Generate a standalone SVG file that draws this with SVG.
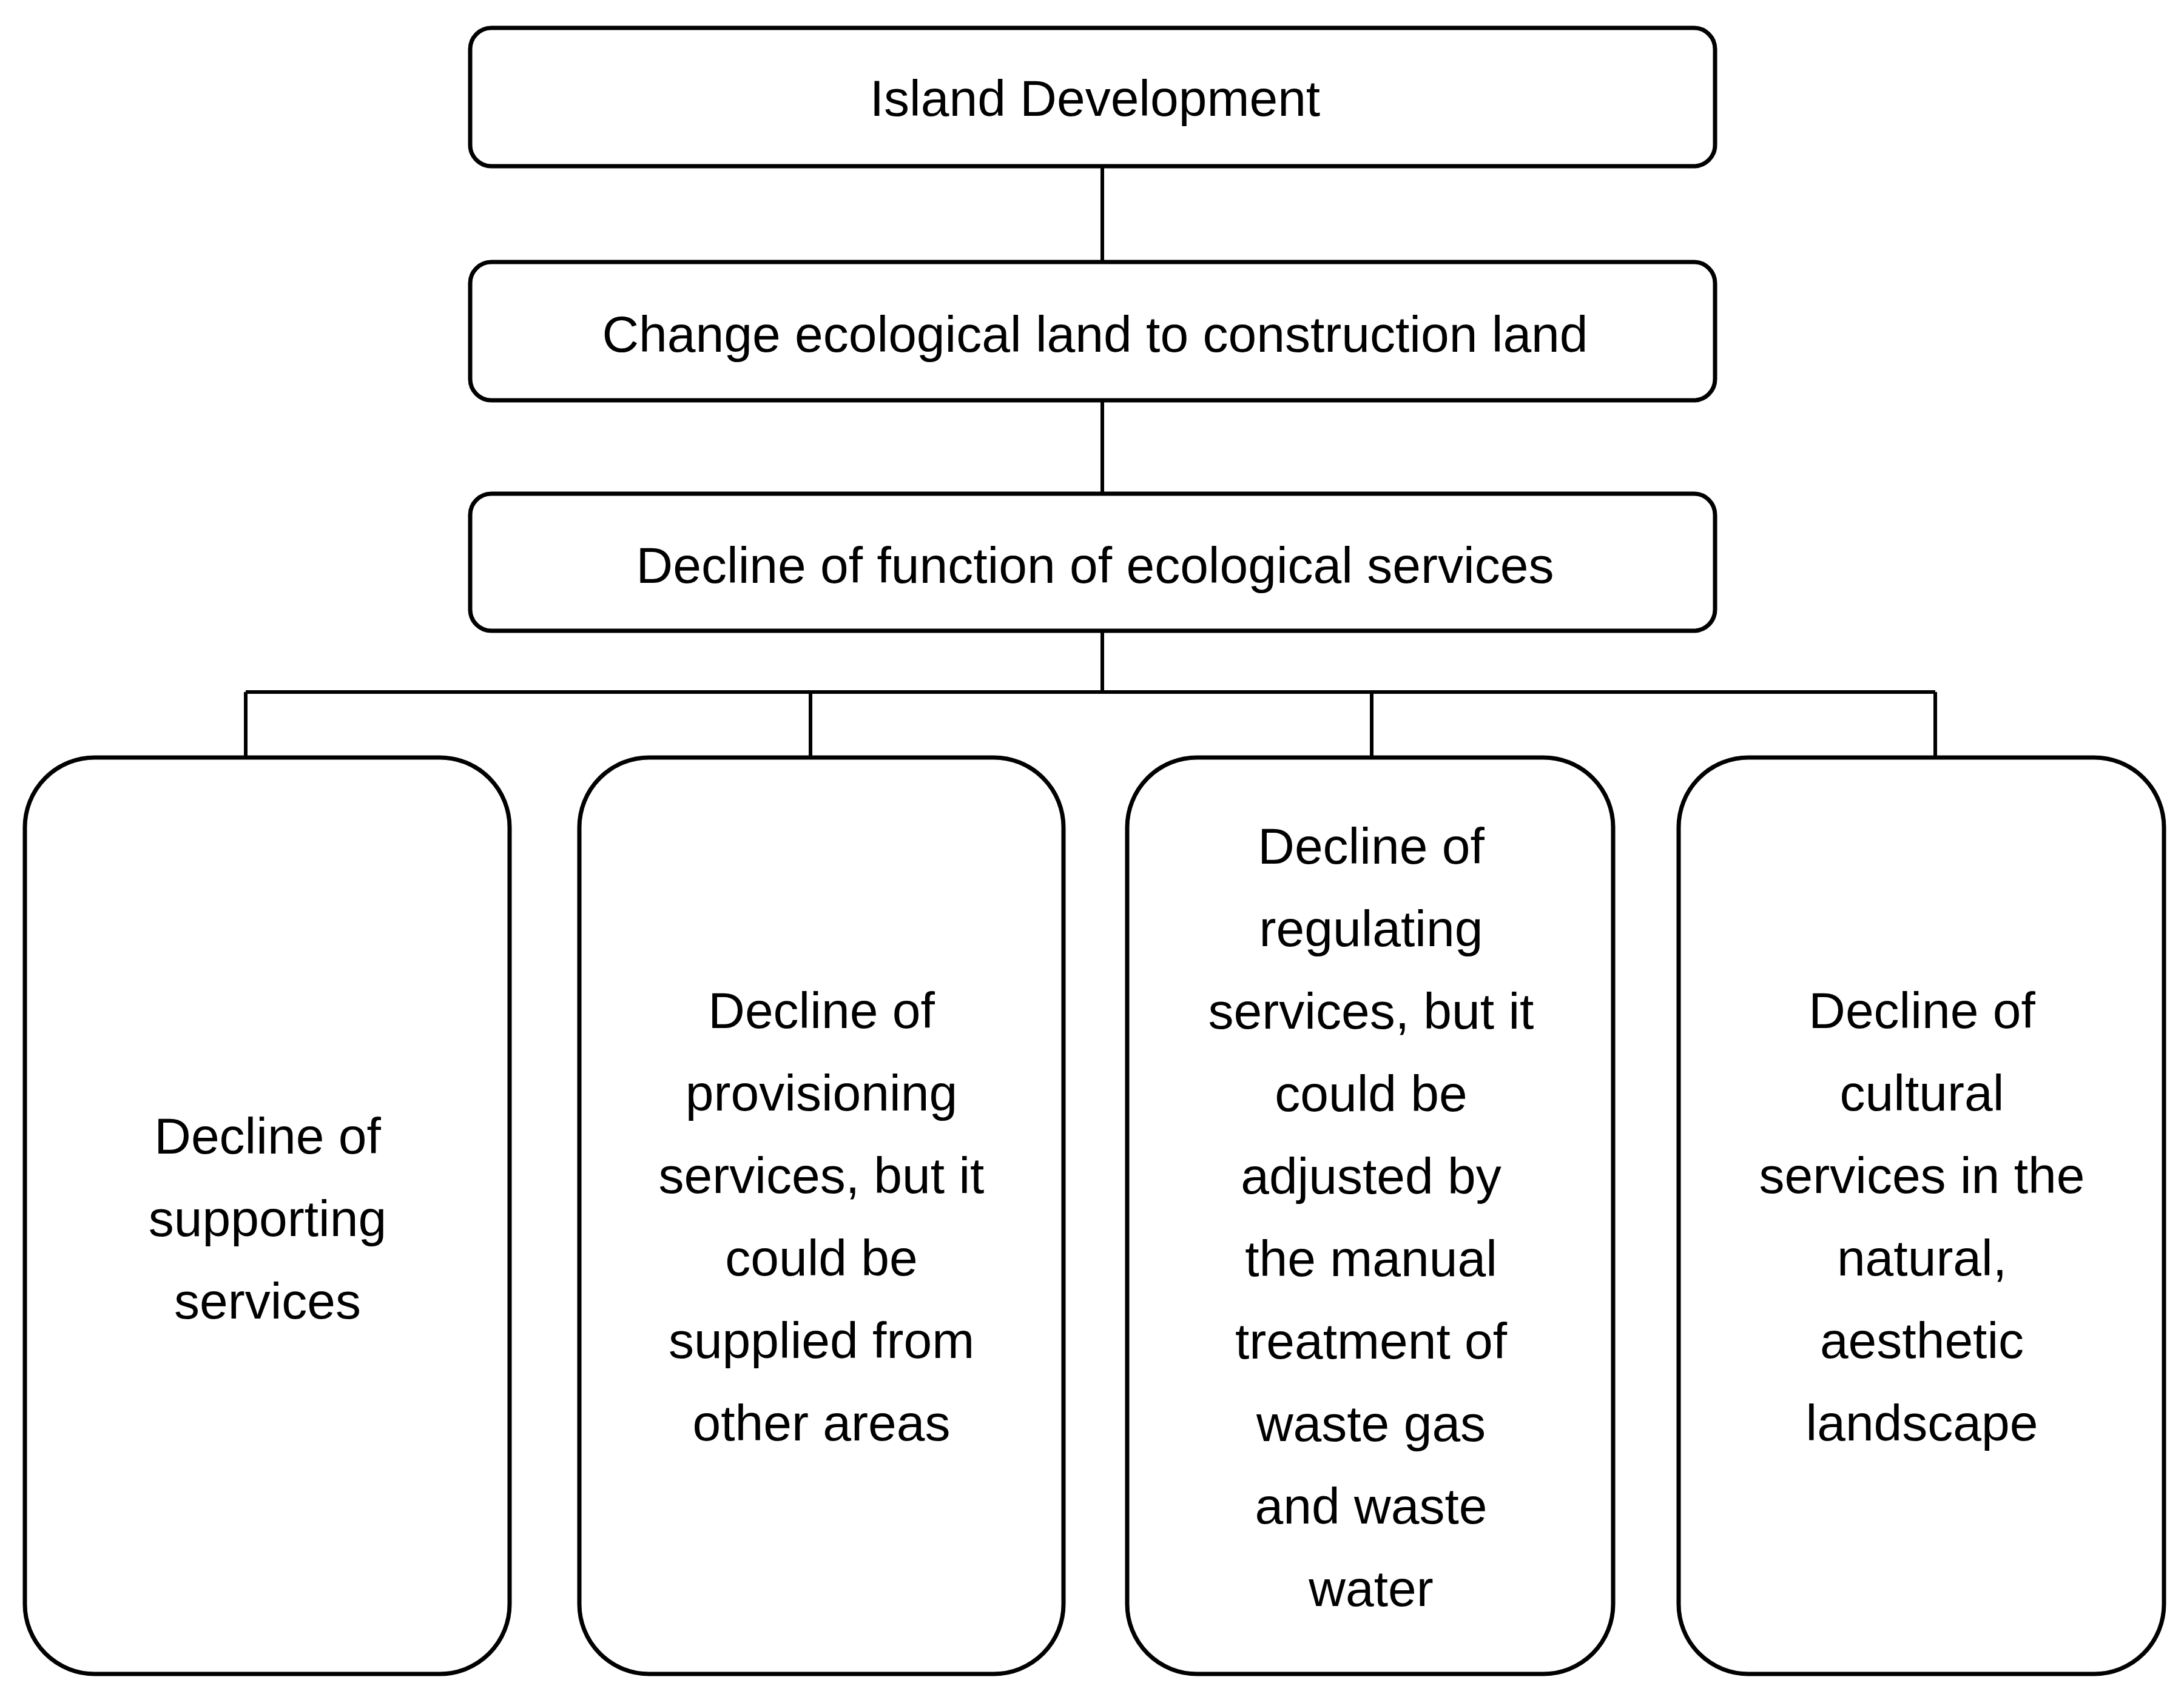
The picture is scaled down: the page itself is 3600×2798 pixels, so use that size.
<svg xmlns="http://www.w3.org/2000/svg" width="3600" height="2798" viewBox="0 0 3600 2798">
<style>
.b{fill:#fff;stroke:#000;stroke-width:7}
.t{font-family:"Liberation Sans",Arial,sans-serif;font-size:84px;text-anchor:middle;fill:#000}
.c{fill:none;stroke:#000;stroke-width:6}
</style>
<rect width="3600" height="2798" fill="#fff"/>
<g id="connectors">
<path class="c" d="M1817 274V432M1817 660V814M1817 1040V1141M405 1141H3190M405 1141V1249M1336 1141V1249M2261 1141V1249M3190 1141V1249"/>
</g>
<g id="n1"><rect class="b" x="775" y="46" width="2052" height="228" rx="35"/><text class="t" x="1805" y="191">Island Development</text></g>
<g id="n2"><rect class="b" x="775" y="432" width="2052" height="228" rx="35"/><text class="t" x="1805" y="580">Change ecological land to construction land</text></g>
<g id="n3"><rect class="b" x="775" y="814" width="2052" height="226" rx="35"/><text class="t" x="1805" y="961">Decline of function of ecological services</text></g>
<g id="n4"><rect class="b" x="41" y="1249" width="799" height="1511" rx="115"/>
<text class="t" x="441"><tspan x="441" y="1902">Decline of</tspan><tspan x="441" y="2038">supporting</tspan><tspan x="441" y="2174">services</tspan></text></g>
<g id="n5"><rect class="b" x="955" y="1249" width="798" height="1511" rx="115"/>
<text class="t"><tspan x="1354" y="1695">Decline of</tspan><tspan x="1354" y="1831">provisioning</tspan><tspan x="1354" y="1967">services, but it</tspan><tspan x="1354" y="2103">could be</tspan><tspan x="1354" y="2239">supplied from</tspan><tspan x="1354" y="2375">other areas</tspan></text></g>
<g id="n6"><rect class="b" x="1858" y="1249" width="801" height="1511" rx="115"/>
<text class="t"><tspan x="2260" y="1424">Decline of</tspan><tspan x="2260" y="1560">regulating</tspan><tspan x="2260" y="1696">services, but it</tspan><tspan x="2260" y="1832">could be</tspan><tspan x="2260" y="1968">adjusted by</tspan><tspan x="2260" y="2104">the manual</tspan><tspan x="2260" y="2240">treatment of</tspan><tspan x="2260" y="2376">waste gas</tspan><tspan x="2260" y="2512">and waste</tspan><tspan x="2260" y="2648">water</tspan></text></g>
<g id="n7"><rect class="b" x="2767" y="1249" width="800" height="1511" rx="115"/>
<text class="t"><tspan x="3168" y="1695">Decline of</tspan><tspan x="3168" y="1831">cultural</tspan><tspan x="3168" y="1967">services in the</tspan><tspan x="3168" y="2103">natural,</tspan><tspan x="3168" y="2239">aesthetic</tspan><tspan x="3168" y="2375">landscape</tspan></text></g>
</svg>
